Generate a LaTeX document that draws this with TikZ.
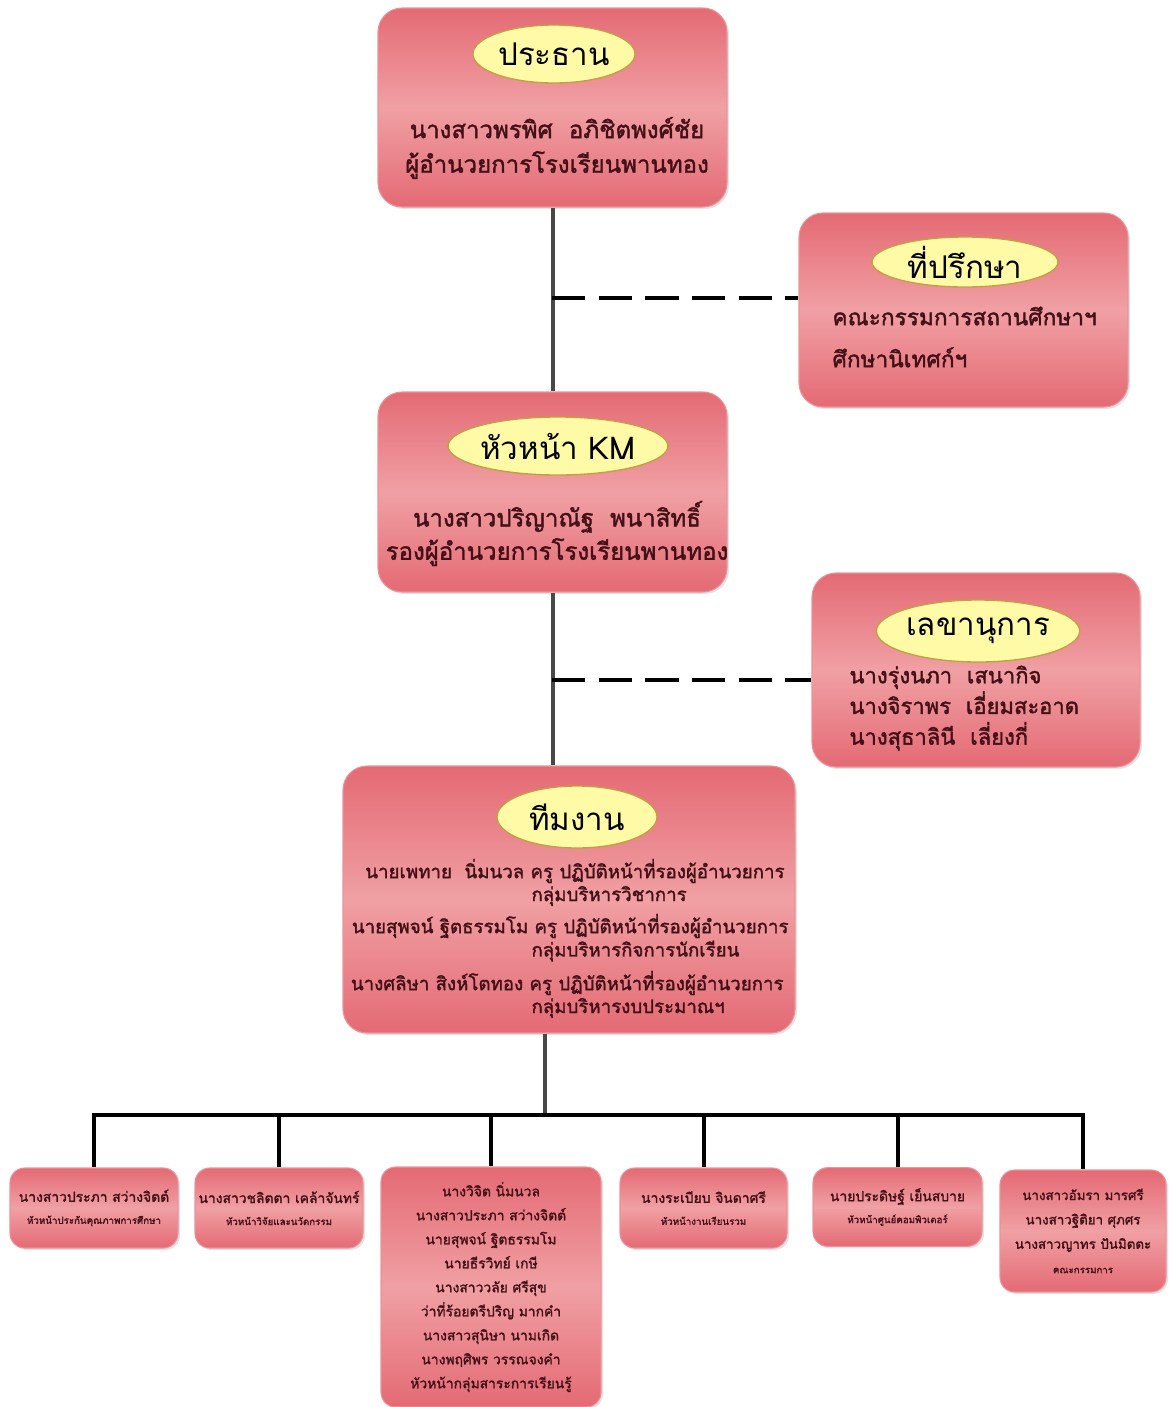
\documentclass[tikz,border=0pt]{standalone}
\usepackage{fontspec}
\newfontfamily\thaifont[Script=Thai]{Loma}
\newfontfamily\thaiheavy[Script=Thai,FakeBold=1.6]{Loma}
\usetikzlibrary{shapes.geometric,shadows}

\definecolor{boxdark}{RGB}{228,106,116}
\definecolor{boxlight}{RGB}{240,160,164}
\definecolor{boxedge}{RGB}{236,146,152}
\definecolor{ovalfill}{RGB}{255,250,165}
\definecolor{ovalline}{RGB}{196,158,66}
\definecolor{inkred}{RGB}{66,16,22}
\definecolor{stemgrey}{RGB}{72,72,72}

\tikzset{
	unitbox/.style={rectangle, rounded corners=18pt, draw=boxedge, line width=0.8pt,
		top color=boxdark, bottom color=boxdark, middle color=boxlight, inner sep=0pt,
		drop shadow={opacity=0.22, shadow xshift=1.5pt, shadow yshift=-1.5pt}},
	memberbox/.style={unitbox, rounded corners=11pt, align=center, text=inkred,
		font=\thaiheavy\fontsize{10.4}{16.5}\selectfont},
	headoval/.style={ellipse, draw=ovalline, line width=1pt, fill=ovalfill, inner sep=0pt,
		font=\thaifont\fontsize{23.5}{26}\selectfont},
	bodytext/.style={text=inkred, inner sep=0pt, font=\thaiheavy\fontsize{18}{26}\selectfont},
	stem/.style={draw=stemgrey, line width=3pt},
	sideline/.style={draw=black, line width=2.4pt, dash pattern=on 25pt off 10pt},
	busline/.style={draw=black, line width=3.5pt}}
\tikzset{every picture/.style={line width=0.75pt}}
\newcommand{\smalltxt}{\fontsize{7.3}{10}\selectfont}

\begin{document}
\begin{tikzpicture}[x=0.75pt,y=0.75pt,yscale=-1,xscale=1]
	\useasboundingbox (0,0) rectangle (1168,1407);

	%Shape: Rounded Rect [id:chair]
	\node[unitbox, minimum width=261.75pt, minimum height=149.25pt] (chair) at (552.5,107.5) {};
	%Shape: Rounded Rect [id:adv]
	\node[unitbox, minimum width=246.75pt, minimum height=145.5pt] (adv) at (963.5,310) {};
	%Shape: Rounded Rect [id:km]
	\node[unitbox, minimum width=261.75pt, minimum height=150pt] (km) at (552.5,492) {};
	%Shape: Rounded Rect [id:sec]
	\node[unitbox, minimum width=246pt, minimum height=145.5pt] (sec) at (976,670) {};
	%Shape: Rounded Rect [id:team]
	\node[unitbox, minimum width=339pt, minimum height=200.25pt] (team) at (569,899.5) {};

	%Shape: Ellipse
	\node[headoval, minimum width=121.5pt, minimum height=43.5pt] (chairhead) at (554,54) {ประธาน};
	\node[headoval, minimum width=139.5pt, minimum height=37.5pt] (advhead) at (965,262) {ที่ปรึกษา};
	\node[headoval, minimum width=137pt, minimum height=43.5pt] (kmhead) at (558,446) {หัวหน้า KM};
	\node[headoval, minimum width=140pt, minimum height=46.5pt] (sechead) at (978,631) {เลขานุการ};
	\node[headoval, minimum width=120pt, minimum height=46.5pt] (teamhead) at (577,817) {ทีมงาน};

	% Text Node
	\node[bodytext, align=center] (chairtext) at (557,148) {นางสาวพรพิศ\ \ อภิชิตพงศ์ชัย\\ผู้อำนวยการโรงเรียนพานทอง};
	% Text Node
	\node[bodytext, align=left, anchor=west, font=\thaiheavy\fontsize{17}{31.5}\selectfont] (advtext) at (832,337) {คณะกรรมการสถานศึกษาฯ\\ศึกษานิเทศก์ฯ};
	% Text Node
	\node[bodytext, align=center, font=\thaiheavy\fontsize{18}{25}\selectfont] (kmtext) at (557,533.5) {นางสาวปริญาณัฐ\ \ พนาสิทธิ์\\รองผู้อำนวยการโรงเรียนพานทอง};
	% Text Node
	\node[bodytext, align=left, anchor=west, font=\thaiheavy\fontsize{16.5}{23}\selectfont] (sectext) at (849,708) {นางรุ่งนภา\ \ เสนากิจ\\นางจิราพร\ \ เอี่ยมสะอาด\\นางสุธาลินี\ \ เลี่ยงกี่};

	% Text Node
	\node[bodytext, anchor=east, font=\thaiheavy\fontsize{14}{18}\selectfont] (teamA) at (785,871) {นายเพทาย\ \ นิ่มนวล ครู ปฏิบัติหน้าที่รองผู้อำนวยการ};
	\node[bodytext, anchor=west, font=\thaiheavy\fontsize{14}{18}\selectfont] (teamAg) at (531,896) {กลุ่มบริหารวิชาการ};
	\node[bodytext, anchor=east, font=\thaiheavy\fontsize{14}{18}\selectfont] (teamB) at (789,926) {นายสุพจน์ ฐิตธรรมโม ครู ปฏิบัติหน้าที่รองผู้อำนวยการ};
	\node[bodytext, anchor=west, font=\thaiheavy\fontsize{14}{18}\selectfont] (teamBg) at (531,951) {กลุ่มบริหารกิจการนักเรียน};
	\node[bodytext, anchor=east, font=\thaiheavy\fontsize{14}{18}\selectfont] (teamC) at (784,983) {นางศลิษา สิงห์โตทอง ครู ปฏิบัติหน้าที่รองผู้อำนวยการ};
	\node[bodytext, anchor=west, font=\thaiheavy\fontsize{14}{18}\selectfont] (teamCg) at (531,1008) {กลุ่มบริหารงบประมาณฯ};

	%Shape: Rounded Rect [members]
	\node[memberbox, minimum width=126pt, minimum height=60pt] (m1) at (94,1208) {นางสาวประภา สว่างจิตต์\\{\smalltxt หัวหน้าประกันคุณภาพการศึกษา}};
	\node[memberbox, minimum width=126pt, minimum height=60pt] (m2) at (279,1208) {นางสาวชลิตตา เคล้าจันทร์\\{\smalltxt หัวหน้าวิจัยและนวัตกรรม}};
	\node[memberbox, minimum width=165pt, minimum height=180pt, font=\thaiheavy\fontsize{10.4}{18}\selectfont] (m3) at (491,1287) {นางวิจิต นิ่มนวล\\นางสาวประภา สว่างจิตต์\\นายสุพจน์ ฐิตธรรมโม\\นายธีรวิทย์ เกษี\\นางสาววลัย ศรีสุข\\ว่าที่ร้อยตรีปริญ มากคำ\\นางสาวสุนิษา นามเกิด\\นางพฤศิพร วรรณจงคำ\\หัวหน้ากลุ่มสาระการเรียนรู้};
	\node[memberbox, minimum width=125.25pt, minimum height=60pt] (m4) at (703.5,1208) {นางระเบียบ จินดาศรี\\{\smalltxt หัวหน้างานเรียนรวม}};
	\node[memberbox, minimum width=126.75pt, minimum height=59pt] (m5) at (897.5,1207) {นายประดิษฐ์ เย็นสบาย\\{\smalltxt หัวหน้าศูนย์คอมพิวเตอร์}};
	\node[memberbox, minimum width=124.5pt, minimum height=91.5pt, font=\thaiheavy\fontsize{10}{18.3}\selectfont] (m6) at (1083,1231) {นางสาวอัมรา มารศรี\\นางสาวฐิติยา ศุภศร\\นางสาวญาทร ปันมิตตะ\\{\smalltxt คณะกรรมการ}};

	%Straight Lines
	\coordinate (advjoin) at (552,298);
	\coordinate (secjoin) at (552,680);
	\coordinate (bus) at (545,1115);
	\draw[stem] (chair.south) -- (km.north);
	\draw[stem] (km.south) -- (km.south |- team.north);
	\draw[sideline] (advjoin) -- (adv.west |- advjoin);
	\draw[sideline] (secjoin) -- (sec.west |- secjoin);
	\draw[stem] (bus |- team.south) -- (bus);
	\draw[busline] ([xshift=-1.75pt]m1.north |- bus) -- ([xshift=1.75pt]m6.north |- bus);
	\foreach \m in {m1,m2,m3,m4,m5,m6}
		\draw[draw=black, line width=3pt] (\m.north |- bus) -- (\m.north);

\end{tikzpicture}
\end{document}
